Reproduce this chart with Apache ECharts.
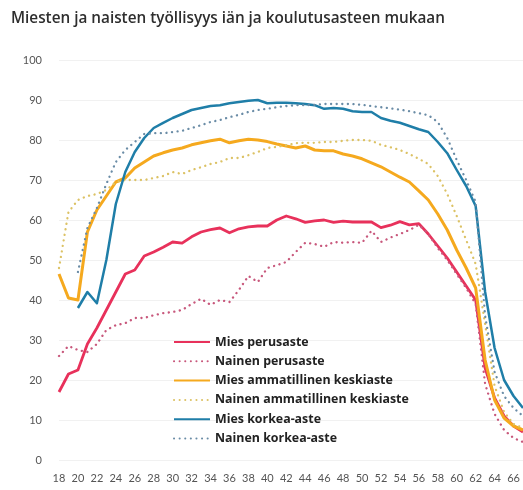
<!DOCTYPE html>
<html>
<head>
<meta charset="utf-8">
<script src="https://cdn.jsdelivr.net/npm/echarts@6/dist/echarts.min.js"></script>
<style>
  html, body { margin: 0; padding: 0; background: #fff; }
  #chart { width: 523px; height: 490px; }
</style>
</head>
<body>
<div id="chart"></div>
<script>
// Ikä (vuotta)
const ages = [];
for (let a = 18; a <= 67; a++) ages.push(String(a));

const yTicks = [0, 10, 20, 30, 40, 50, 60, 70, 80, 90, 100];

// Työllisyysaste (%) iän mukaan, 18–67 v.
const miesPerusaste = [17, 21.5, 22.5, 29, 33, 37.5, 42, 46.5, 47.5, 51,
  52, 53.2, 54.5, 54.2, 55.8, 57, 57.6, 58, 56.8, 57.8,
  58.3, 58.5, 58.5, 60, 61, 60.3, 59.4, 59.8, 60, 59.4,
  59.7, 59.5, 59.5, 59.5, 58.1, 58.7, 59.6, 58.8, 59.1, 56.5,
  53.5, 50.5, 47, 43.5, 40, 23, 15.5, 11, 8.5, 7];
const nainenPerusaste = [26, 28.5, 27.5, 27, 29, 32.5, 33.7, 34.2, 35.5, 35.5,
  36.2, 36.7, 37, 37.5, 39, 40.3, 38.8, 40, 39.5, 42.5,
  46, 44.5, 48, 48.7, 49.5, 52, 54.3, 54, 53.3, 54.5,
  54.3, 54.5, 54.3, 57.3, 54.5, 55.6, 56.5, 57.5, 58.8, 56.5,
  53, 50, 46.5, 43, 39, 19, 11.5, 7.5, 5.5, 4.5];
const miesAmmatillinen = [46.5, 40.5, 40, 57, 62.5, 66, 69.5, 70.5, 73, 74.5,
  76, 76.8, 77.5, 78, 78.8, 79.3, 79.8, 80.2, 79.3, 79.8,
  80.2, 80, 79.6, 79, 78.5, 78, 78.5, 77.5, 77.3, 77.3,
  76.5, 76, 75.3, 74.3, 73.3, 72, 70.7, 69.5, 67.3, 65,
  61.5, 57.5, 52.5, 48, 43, 25, 15, 10.5, 8.5, 7.5];
const nainenAmmatillinen = [48, 62, 65, 66, 66.5, 67.5, 69.5, 70, 70, 70,
  70.5, 71, 72, 71.5, 72.5, 73.2, 74, 74.5, 75.5, 75.5,
  76.2, 77, 78, 78.3, 78.7, 79.2, 79.3, 79.3, 79.5, 79.5,
  79.8, 80, 80, 79.8, 78.8, 78.2, 77.5, 76.5, 75.3, 74,
  71, 66.5, 61, 55, 49, 34, 18.5, 12, 9, 8];
const miesKorkea = ['-', '-', 38, 42, 39.2, 50, 64, 72, 77, 80.5,
  83, 84.3, 85.5, 86.5, 87.5, 88, 88.5, 88.7, 89.2, 89.5,
  89.8, 90, 89.2, 89.3, 89.3, 89.2, 89, 88.7, 87.8, 88,
  87.8, 87.2, 87, 87, 85.5, 84.8, 84.3, 83.5, 82.7, 82,
  79.5, 76.7, 72.5, 68.5, 63.5, 42, 28, 20, 16, 13];
const nainenKorkea = ['-', '-', 47, 58, 63, 69, 74.5, 77.5, 79.5, 81.5,
  81.7, 81.7, 82, 82.3, 83, 83.7, 84.5, 85, 85.7, 86.3,
  87, 87.5, 87.8, 88.2, 88.5, 88.7, 88.7, 88.8, 89, 89,
  89, 89, 88.8, 88.5, 88.2, 87.9, 87.6, 87.2, 86.7, 86.2,
  84.5, 80.5, 75, 70, 64.5, 36, 22, 16, 13, 11];

const seriesNames = [
  'Mies perusaste',
  'Nainen perusaste',
  'Mies ammatillinen keskiaste',
  'Nainen ammatillinen keskiaste',
  'Mies korkea-aste',
  'Nainen korkea-aste'
];

// dotted lines: tiny dashes with round caps give round dots
const DOTS = [0.1, 5.5];

const lineDefs = [
  { data: miesPerusaste, color: '#e8315b', dash: 'solid', width: 2.8 },
  { data: nainenPerusaste, color: '#c8587c', dash: DOTS, width: 2.3 },
  { data: miesAmmatillinen, color: '#f5a91e', dash: 'solid', width: 3 },
  { data: nainenAmmatillinen, color: '#dcc265', dash: DOTS, width: 2.3 },
  { data: miesKorkea, color: '#1f7ea8', dash: 'solid', width: 2.5 },
  { data: nainenKorkea, color: '#6a8ca6', dash: DOTS, width: 2.3 }
];

const chart = echarts.init(document.getElementById('chart'), null, { renderer: 'canvas' });

chart.setOption({
  backgroundColor: '#ffffff',
  animation: false,
  title: {
    text: 'Miesten ja naisten työllisyys iän ja koulutusasteen mukaan',
    left: 6,
    top: 6,
    textStyle: {
      fontFamily: 'Open Sans',
      fontSize: 15.3,
      fontWeight: 600,
      color: '#2e2e2e'
    }
  },
  legend: {
    orient: 'vertical',
    left: 168,
    top: 331,
    itemWidth: 36,
    itemHeight: 12,
    itemGap: 7.3,
    // keep only the line sample, hide the marker drawn on top of it
    itemStyle: { opacity: 0 },
    data: seriesNames,
    textStyle: {
      fontFamily: 'Open Sans',
      fontSize: 12.4,
      fontWeight: 'bold',
      color: '#222'
    }
  },
  grid: {
    left: 59,
    right: 0,
    top: 60,
    bottom: 30
  },
  xAxis: {
    type: 'category',
    data: ages,
    boundaryGap: false,
    axisLine: { show: false },
    axisTick: { show: false },
    axisLabel: {
      interval: 1,
      color: '#555',
      fontFamily: 'Lato',
      fontSize: 11,
      margin: 13
    },
    splitLine: { show: false }
  },
  yAxis: {
    type: 'value',
    min: yTicks[0],
    max: yTicks[yTicks.length - 1],
    interval: 10,
    axisLine: { show: false },
    axisTick: { show: false },
    axisLabel: {
      color: '#555',
      fontFamily: 'Lato',
      fontSize: 11,
      margin: 17
    },
    splitLine: { lineStyle: { color: '#f1f1f1', width: 1 } }
  },
  series: lineDefs.map((d, i) => ({
    name: seriesNames[i],
    type: 'line',
    data: d.data,
    showSymbol: false,
    symbol: 'none',
    connectNulls: false,
    itemStyle: { color: d.color },
    lineStyle: {
      color: d.color,
      type: d.dash,
      width: d.width,
      cap: d.dash === 'solid' ? 'butt' : 'round',
      join: 'round'
    }
  }))
});
</script>
</body>
</html>
